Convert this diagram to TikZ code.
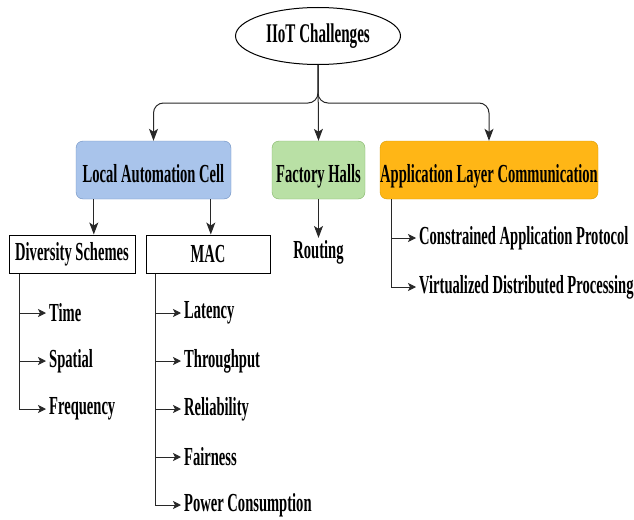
\documentclass[tikz,border=0pt]{standalone}
\usepackage{fontspec}
\setmainfont[FakeStretch=0.56]{Liberation Serif}
\usepackage{tikz}
\usetikzlibrary{arrows.meta,shapes,positioning}
\usepackage{xcolor}
\definecolor{lacblue}{RGB}{169,196,235}
\definecolor{lacborder}{RGB}{108,142,191}
\definecolor{fhgreen}{RGB}{185,224,165}
\definecolor{fhborder}{RGB}{130,179,102}
\definecolor{alcorange}{RGB}{255,182,22}
\definecolor{alcborder}{RGB}{215,155,0}
\definecolor{lineclr}{RGB}{40,40,40}
\tikzstyle{arrow} = [line width=1pt,color=lineclr,-{Stealth[length=12pt,width=9pt,inset=3pt]}]
\tikzstyle{subarrow} = [line width=1pt,color=lineclr,-{Stealth[length=8pt,width=8pt,inset=2pt]}]
\tikzstyle{catbox} = [rounded corners=7pt, minimum height=58pt, inner sep=0pt, text height=24pt, text depth=0pt, font=\fontsize{26}{28}\selectfont\bfseries]
\tikzstyle{whitebox} = [draw, line width=1pt, minimum height=38pt, inner sep=0pt, font=\fontsize{26}{28}\selectfont\bfseries]
\tikzstyle{leaf} = [anchor=west, inner sep=3pt, font=\fontsize{26}{28}\selectfont\bfseries]

\begin{document}
\begin{tikzpicture}[x=1pt, y=-1pt]
\useasboundingbox (0,0) rectangle (634,519);

% Root
\node[draw, ellipse, line width=1pt, minimum width=165pt, minimum height=57pt, inner sep=0pt,
  font=\fontsize{27}{28}\selectfont\bfseries] (root) at (318,36) {IIoT Challenges};

% Categories
\node[catbox, draw=lacborder, fill=lacblue, minimum width=155pt] (lac) at (153.5,170) {Local Automation Cell};
\node[catbox, draw=fhborder, fill=fhgreen, minimum width=93pt] (fh) at (318.5,170) {Factory Halls};
\node[catbox, draw=alcborder, fill=alcorange, minimum width=218pt] (alc) at (489,170) {Application Layer Communication};

\draw[arrow, rounded corners=10pt] (root.south) -- ++(0,38) -| (lac.north);
\draw[arrow] (root.south) -- (fh.north);
\draw[arrow, rounded corners=10pt] (root.south) -- ++(0,38) -| (alc.north);

% Local Automation Cell
\node[whitebox, minimum width=126pt] (div) at (72,254) {Diversity Schemes};
\node[whitebox, minimum width=124pt] (mac) at (208,254) {MAC};
\draw[arrow] ([xshift=18pt]lac.south west) -- ([xshift=18pt]lac.south west |- div.north);
\draw[arrow] ([xshift=135pt]lac.south west) -- ([xshift=135pt]lac.south west |- mac.north);

\node[leaf] (time) at (46,313) {Time};
\node[leaf] (spatial) at (46,361) {Spatial};
\node[leaf] (freq) at (46,409) {Frequency};
\draw[subarrow] ([xshift=11pt]div.south west) |- (time.west);
\draw[subarrow] ([xshift=11pt]div.south west) |- (spatial.west);
\draw[subarrow] ([xshift=11pt]div.south west) |- (freq.west);

\node[leaf] (lat) at (181,313) {Latency};
\node[leaf] (thr) at (181,361) {Throughput};
\node[leaf] (rel) at (181,409) {Reliability};
\node[leaf] (fair) at (181,457) {Fairness};
\node[leaf] (power) at (181,505) {Power Consumption};
\draw[subarrow] ([xshift=10pt]mac.south west) |- (lat.west);
\draw[subarrow] ([xshift=10pt]mac.south west) |- (thr.west);
\draw[subarrow] ([xshift=10pt]mac.south west) |- (rel.west);
\draw[subarrow] ([xshift=10pt]mac.south west) |- (fair.west);
\draw[subarrow] ([xshift=10pt]mac.south west) |- (power.west);

% Factory Halls
\node[inner sep=2pt, font=\fontsize{26}{28}\selectfont\bfseries] (rout) at (318.5,252) {Routing};
\draw[arrow] (fh.south) -- (rout.north);

% Application Layer Communication
\node[leaf] (coap) at (416,238) {Constrained Application Protocol};
\node[leaf] (vdp) at (416,287) {Virtualized Distributed Processing};
\draw[subarrow] ([xshift=12pt]alc.south west) |- (coap.west);
\draw[subarrow] ([xshift=12pt]alc.south west) |- (vdp.west);
\end{tikzpicture}
\end{document}
